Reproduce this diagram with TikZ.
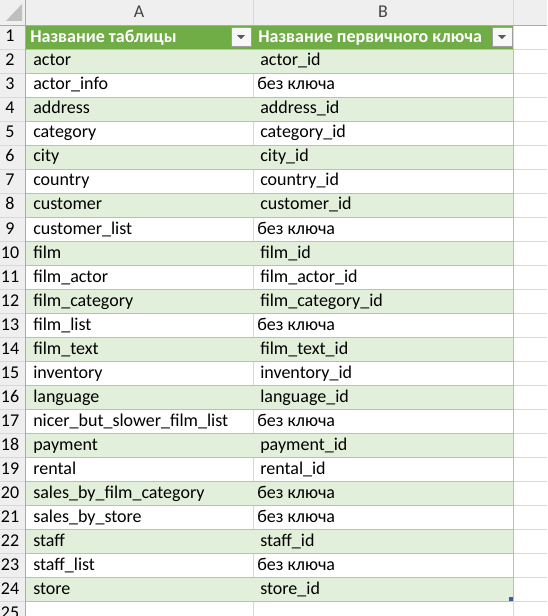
\documentclass[tikz,border=0pt]{standalone}
\usepackage{fontspec}
\setmainfont{Carlito}
\usetikzlibrary{positioning}

\definecolor{hdrgreen}{RGB}{112,173,71}
\definecolor{band}{RGB}{226,239,218}
\definecolor{bandline}{RGB}{169,208,142}
\definecolor{gridline}{RGB}{216,216,216}
\definecolor{headgray}{RGB}{239,239,239}
\definecolor{headline}{RGB}{171,171,171}
\definecolor{headtext}{RGB}{68,68,68}
\definecolor{handle}{RGB}{64,88,168}

\newcommand{\nokey}{\hspace*{-2.25pt}без ключа}

\tikzset{
    cell/.style={anchor=base west,inner sep=0pt,font=\fontsize{13.5}{15}\selectfont},
    hdrcell/.style={cell,font=\fontsize{13.5}{15}\selectfont\bfseries,text=white},
    rownum/.style={anchor=base,inner sep=0pt,font=\fontsize{13.5}{15}\selectfont},
    colname/.style={anchor=base,inner sep=0pt,font=\fontsize{13.5}{15}\selectfont,text=headtext},
    dropbtn/.style={draw=gray!75,fill=gray!6,minimum width=15pt,minimum height=14.25pt,inner sep=0pt}
}

\begin{document}
\begin{tikzpicture}[x=0.75pt,y=-0.75pt]
        \useasboundingbox (0,0) rectangle (547,616);
        \clip (0,0) rectangle (547,616);
        \fill[white] (0,0) rectangle (547,616);
        % column and row headers
        \fill[headgray] (0,0) rectangle (547,25);
        \fill[headgray] (0,25) rectangle (25,616);
        \fill[gray!50] (22,4) -- (22,21) -- (6,21) -- cycle;
        \node[colname] (colA) at (139,18) {A};
        \node[colname] (colB) at (383,18) {B};
        \foreach \x in {253,513}
            \draw[gridline] (\x,0) -- (\x,25);
        % sheet grid
        \foreach \r in {1,...,25}
            \draw[gridline] (0,24*\r+1) -- (547,24*\r+1);
        \foreach \x in {253,513}
            \draw[gridline] (\x,25) -- (\x,616);
        \foreach \r in {1,...,25}
            \node[rownum] (r\r) at (10,24*\r+18) {\r};
        % table header
        \fill[hdrgreen] (25,25) rectangle (513,49);
        \node[hdrcell] (hA) at (30,42.5) {Название таблицы};
        \node[hdrcell] (hB) at (258,42.5) {Название первичного ключа};
        \node[dropbtn] (dA) at (241,36.5) {};
        \node[dropbtn] (dB) at (502,36.5) {};
        \foreach \d in {dA,dB}
            \fill[black!65] ([xshift=-3pt,yshift=1pt]\d.center) -- ([xshift=3pt,yshift=1pt]\d.center) -- ([yshift=-2pt]\d.center) -- cycle;
        % table rows
        \foreach \tname/\kname [count=\i from 2] in {
            actor/actor\_id, actor\_info/\nokey, address/address\_id,
            category/category\_id, city/city\_id, country/country\_id,
            customer/customer\_id, customer\_list/\nokey, film/film\_id,
            film\_actor/film\_actor\_id, film\_category/film\_category\_id,
            film\_list/\nokey, film\_text/film\_text\_id,
            inventory/inventory\_id, language/language\_id,
            nicer\_but\_slower\_film\_list/\nokey, payment/payment\_id,
            rental/rental\_id, sales\_by\_film\_category/\nokey,
            sales\_by\_store/\nokey, staff/staff\_id,
            staff\_list/\nokey, store/store\_id}
        {
            \ifodd\i\else
                \fill[band] (25,24*\i+1) rectangle (513,24*\i+25);
            \fi
            \node[cell] (a\i) at (33,24*\i+18) {\tname};
            \node[cell] (b\i) at (260,24*\i+18) {\kname};
        }
        \foreach \r in {2,...,25}
            \draw[bandline] (25,24*\r+1) -- (513,24*\r+1);
        \draw[bandline] (513,49) -- (513,601);
        \fill[handle] (509,597) rectangle (513,601);
        % header borders
        \draw[headline] (0,25) -- (547,25);
        \draw[headline] (25,0) -- (25,616);
    \end{tikzpicture}
\end{document}
